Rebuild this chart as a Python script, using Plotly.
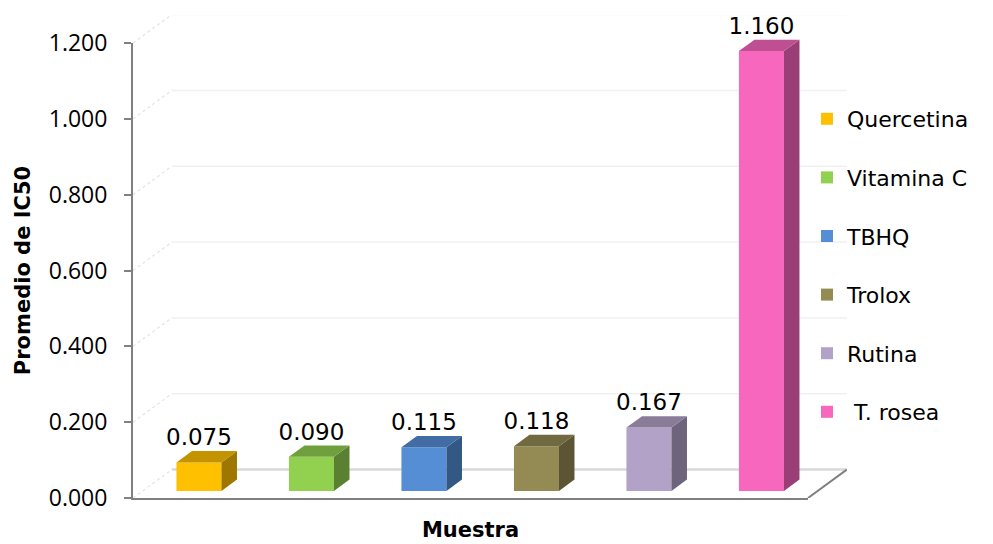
import plotly.graph_objects as go

# ---- data -------------------------------------------------------------
samples = ["Quercetina", "Vitamina C", "TBHQ", "Trolox", "Rutina", "T. rosea"]
legend_names = ["Quercetina", "Vitamina C", "TBHQ", "Trolox", "Rutina", "\u00a0T. rosea"]
ic50 = [0.075, 0.090, 0.115, 0.118, 0.167, 1.160]
y_ticks = [0.0, 0.2, 0.4, 0.6, 0.8, 1.0, 1.2]
front_colors = ["#FFC000", "#92D050", "#558ED5", "#948A54", "#B3A2C7", "#F767BE"]

# ---- geometry of the pseudo-3D box --------------------------------------
W, H = 993, 544
LEFT, BOTTOM = 133, 498        # front-left corner of the floor
FRONT_W, FRONT_H = 675, 455    # front plane size in px
Y_MAX = 1.2
DEPTH_X = 0.345                # floor depth, category units
DEPTH_Y = 0.075                # floor depth, value units
BAR_W = 0.40
BAR_Z0 = 0.25                  # depth fraction of the bar front faces
BAR_DEPTH = 0.40               # depth fraction occupied by each bar

n = len(samples)
px_cat = FRONT_W / n
px_unit = FRONT_H / Y_MAX
right_px = round(LEFT + FRONT_W + DEPTH_X * px_cat)
top_px = round(BOTTOM - FRONT_H - DEPTH_Y * px_unit)
inner_w = right_px - LEFT
inner_h = BOTTOM - top_px

x_lo = -0.5
x_hi = n - 0.5


def shade(hex_color, k):
    h = hex_color.lstrip("#")
    r, g, b = (int(h[i:i + 2], 16) for i in (0, 2, 4))
    return "rgb({},{},{})".format(int(r * k), int(g * k), int(b * k))


def proj(x, y, d):
    """Shift a front-plane point back by depth fraction d."""
    return x + d * DEPTH_X, y + d * DEPTH_Y


fig = go.Figure()

# empty trace so the front-plane axes get drawn
fig.add_trace(go.Scatter(x=[None], y=[None], xaxis="x", yaxis="y",
                         showlegend=False, hoverinfo="skip"))

common = dict(xaxis="x2", yaxis="y2", showlegend=False, hoverinfo="skip")

# ---- walls and floor (drawn beneath the bars) ---------------------------
box_shapes = []
ref = dict(xref="x2", yref="y2", layer="below")
for v in y_ticks:
    bx, by = proj(x_lo, v, 1.0)
    ex, _ = proj(x_hi, v, 1.0)
    # left-wall diagonal
    box_shapes.append(dict(type="line", x0=x_lo, y0=v, x1=bx, y1=by,
                           line=dict(color="#E3E3E3", width=1.2, dash="dot"), **ref))
    # back-wall gridline (floor back edge at zero)
    if v > 0:
        box_shapes.append(dict(type="line", x0=bx, y0=by, x1=ex, y1=by,
                               line=dict(color="#F0F0F0", width=1.5), **ref))
    else:
        box_shapes.append(dict(type="line", x0=bx, y0=by, x1=ex, y1=by,
                               line=dict(color="#D9D9D9", width=2.5), **ref))
        # right edge of the floor
        box_shapes.append(dict(type="line", x0=x_hi, y0=0, x1=ex, y1=by,
                               line=dict(color="#808080", width=2), **ref))

# ---- bars: front faces --------------------------------------------------
base = BAR_Z0 * DEPTH_Y
for i, (name, val, col) in enumerate(zip(samples, ic50, front_colors)):
    cx, _ = proj(i, 0, BAR_Z0)
    fig.add_trace(go.Bar(
        x=[cx], y=[val], base=[base], width=[BAR_W],
        name=legend_names[i], legendgroup=name,
        marker=dict(color=col, line=dict(width=0)),
        xaxis="x2", yaxis="y2", hoverinfo="skip",
    ))

# ---- bars: side and top faces, value labels -----------------------------
lab_x, lab_y, lab_t = [], [], []
for i, (val, col) in enumerate(zip(ic50, front_colors)):
    cx, _ = proj(i, 0, BAR_Z0)
    xl, xr = cx - BAR_W / 2, cx + BAR_W / 2
    y0, y1 = base, base + val
    dx, dy = BAR_DEPTH * DEPTH_X, BAR_DEPTH * DEPTH_Y
    fig.add_trace(go.Scatter(
        x=[xr, xr + dx, xr + dx, xr, xr], y=[y0, y0 + dy, y1 + dy, y1, y0],
        mode="lines", fill="toself", fillcolor=shade(col, 0.62),
        line=dict(width=0, color=shade(col, 0.62)), **common))
    fig.add_trace(go.Scatter(
        x=[xl, xr, xr + dx, xl + dx, xl], y=[y1, y1, y1 + dy, y1 + dy, y1],
        mode="lines", fill="toself", fillcolor=shade(col, 0.77),
        line=dict(width=0, color=shade(col, 0.77)), **common))
    lab_x.append(cx)
    lab_y.append(y1 + dy)
    lab_t.append("{:.3f}".format(val))

fig.add_trace(go.Scatter(
    x=lab_x, y=lab_y, text=lab_t, mode="text", textposition="top center",
    textfont=dict(family="DejaVu Sans", size=23, color="#000000"),
    cliponaxis=False, **common))

axis_grey = "#808080"
fig.update_layout(
    width=W, height=H,
    margin=dict(l=LEFT, r=W - right_px, t=top_px, b=H - BOTTOM, autoexpand=False),
    paper_bgcolor="white", plot_bgcolor="rgba(0,0,0,0)",
    barmode="overlay",
    shapes=box_shapes,
    xaxis=dict(domain=[0, FRONT_W / inner_w], range=[x_lo, x_hi], anchor="y",
               showline=True, linecolor=axis_grey, linewidth=2,
               showticklabels=False, ticks="", showgrid=False, zeroline=False,
               title=dict(text="Muestra", standoff=23,
                          font=dict(family="DejaVu Sans", size=21, weight="bold",
                                    color="#000000"))),
    yaxis=dict(domain=[0, FRONT_H / inner_h], range=[0, Y_MAX], anchor="x",
               showline=True, linecolor=axis_grey, linewidth=2,
               ticks="outside", ticklen=7, tickwidth=2, tickcolor=axis_grey,
               tickvals=y_ticks, tickformat=".3f", ticklabelstandoff=12,
               tickfont=dict(family="Open Sans", size=23, color="#000000"),
               showgrid=False, zeroline=False,
               title=dict(text="Promedio de IC50", standoff=12,
                          font=dict(family="DejaVu Sans", size=21, weight="bold",
                                    color="#000000"))),
    xaxis2=dict(domain=[0, 1], range=[x_lo, x_lo + inner_w / px_cat], anchor="y2",
                visible=False, fixedrange=True),
    yaxis2=dict(domain=[0, 1], range=[0, inner_h / px_unit], anchor="x2",
                visible=False, fixedrange=True),
    legend=dict(x=(807 - LEFT) / inner_w, xanchor="left",
                y=(BOTTOM - 98) / inner_h, yanchor="top",
                font=dict(family="DejaVu Sans", size=22, color="#000000"),
                tracegroupgap=27, bgcolor="rgba(0,0,0,0)", traceorder="grouped"),
    showlegend=True,
)

fig.write_html("out.html")
